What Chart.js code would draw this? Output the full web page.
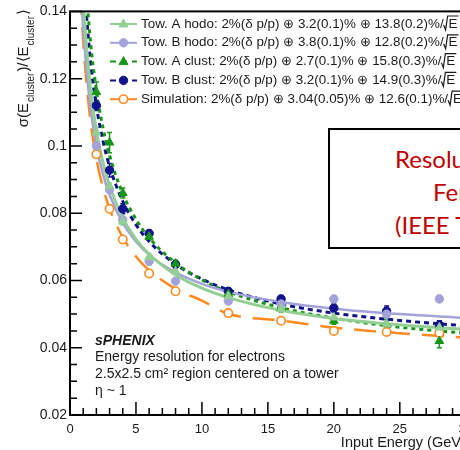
<!DOCTYPE html>
<html>
<head>
<meta charset="utf-8">
<script src="https://cdn.jsdelivr.net/npm/chart.js@4.4.1/dist/chart.umd.min.js"></script>
<style>
  html, body { margin: 0; padding: 0; background: #fff; overflow: hidden; width: 460px; height: 450px; }
  #wrap { position: relative; width: 480px; height: 450px; }
  #note { position: absolute; left: 328px; top: 128px; width: 220px; height: 117px; border: 2px solid #000; background: #fff;
          font-family: Lato, sans-serif; font-size: 24px; color: #c00000; white-space: nowrap; }
  #note span { position: absolute; line-height: 24px; }
</style>
</head>
<body>
<div id="wrap">
  <canvas id="chart" width="480" height="450"></canvas>
  <div id="note">
    <span style="left:65px; top:17px">Resolution from</span>
    <span style="left:103px; top:50px">Fermilab</span>
    <span style="left:65px; top:83px">(IEEE TNS 2018)</span>
  </div>
</div>
<script>
// beam energies (GeV) and measured resolutions
const energy = [2, 3, 4, 6, 8, 12, 16, 20, 24, 28];
const towAHodo  = [0.104, 0.088, 0.0775, 0.067, 0.0627, 0.0553, 0.0515, 0.049, 0.047, 0.046];
const towBHodo  = [0.100, 0.087, 0.078, 0.0657, 0.0598, 0.0539, 0.053, 0.0545, 0.050, 0.0545];
const towAClust = [0.116, 0.101, 0.086, 0.073, 0.065, 0.056, 0.0518, 0.048, 0.047, 0.042];
const towBClust = [0.112, 0.0928, 0.0813, 0.074, 0.0648, 0.0568, 0.0545, 0.0518, 0.0509, 0.0468];
const simulation = [0.0975, 0.0813, 0.0722, 0.0621, 0.0568, 0.0503, 0.048, 0.045, 0.0447, 0.0444];

const towAHodoErr  = [0.0015, 0.001, 0.001, 0.001, 0.001, 0.001, 0.001, 0.001, 0.001, 0.001];
const towBHodoErr  = [0.0015, 0.001, 0.001, 0.001, 0.001, 0.001, 0.001, 0.001, 0.001, 0.001];
const towAClustErr = [0.003, 0.003, 0.0015, 0.001, 0.001, 0.001, 0.001, 0.001, 0.0015, 0.002];
const towBClustErr = [0.0015, 0.002, 0.0015, 0.001, 0.001, 0.001, 0.001, 0.0012, 0.0015, 0.0012];
const simulationErr = [0.0005, 0.0005, 0.0005, 0.0005, 0.0005, 0.0005, 0.0005, 0.0005, 0.0005, 0.0005];

// fit curves
const fitE = [0.8, 1, 1.5, 2, 2.5, 3, 4, 5, 6, 8, 10, 12, 16, 20, 25, 30];
const fitAHodo  = [0.1588, 0.1431, 0.1188, 0.1046, 0.0951, 0.0882, 0.0786, 0.0723, 0.0678, 0.0617, 0.0577, 0.0549, 0.0511, 0.0487, 0.0468, 0.0454];
const fitBHodo  = [0.1494, 0.1350, 0.1130, 0.1002, 0.0916, 0.0855, 0.0771, 0.0716, 0.0676, 0.0624, 0.0590, 0.0566, 0.0536, 0.0516, 0.0500, 0.0489];
const fitAClust = [0.1798, 0.1615, 0.1333, 0.1167, 0.1054, 0.0972, 0.0858, 0.0782, 0.0727, 0.0652, 0.0602, 0.0566, 0.0519, 0.0488, 0.0461, 0.0443];
const fitBClust = [0.1708, 0.1537, 0.1274, 0.1119, 0.1015, 0.0939, 0.0835, 0.0766, 0.0716, 0.0648, 0.0604, 0.0572, 0.0530, 0.0503, 0.0481, 0.0465];
const fitSim    = [0.1455, 0.1311, 0.1091, 0.0962, 0.0876, 0.0813, 0.0728, 0.0671, 0.0630, 0.0575, 0.0540, 0.0501, 0.0481, 0.0460, 0.0443, 0.0430];

const labels = [
  'Tow. A hodo: 2%(\u03b4 p/p) \u2295 3.2(0.1)% \u2295 13.8(0.2)%/',
  'Tow. B hodo: 2%(\u03b4 p/p) \u2295 3.8(0.1)% \u2295 12.8(0.2)%/',
  'Tow. A clust: 2%(\u03b4 p/p) \u2295 2.7(0.1)% \u2295 15.8(0.3)%/',
  'Tow. B clust: 2%(\u03b4 p/p) \u2295 3.2(0.1)% \u2295 14.9(0.3)%/',
  'Simulation: 2%(\u03b4 p/p) \u2295 3.04(0.05)% \u2295 12.6(0.1)%/'
];
const xTicks = [0, 5, 10, 15, 20, 25, 30];
const yTicks = [0.02, 0.04, 0.06, 0.08, 0.1, 0.12, 0.14];

const series = [
  { y: towAHodo,  err: towAHodoErr,  fit: fitAHodo,  color: '#93cf93', shape: 'triangle', open: false, dash: [],      lw: 3,   legDash: [] },
  { y: towBHodo,  err: towBHodoErr,  fit: fitBHodo,  color: '#a3a3da', shape: 'circle',   open: false, dash: [],      lw: 2.5, legDash: [] },
  { y: towAClust, err: towAClustErr, fit: fitAClust, color: '#17961a', shape: 'triangle', open: false, dash: [4, 4],  lw: 3,   legDash: [6, 5] },
  { y: towBClust, err: towBClustErr, fit: fitBClust, color: '#12128c', shape: 'circle',   open: false, dash: [5, 4],  lw: 3,   legDash: [6, 5] },
  { y: simulation, err: simulationErr, fit: fitSim,  color: '#ff8a1e', shape: 'circle',   open: true,  dash: [22, 12], lw: 2.5, legDash: [] }
];

const datasets = [];
series.forEach((s, i) => {
  datasets.push({
    label: labels[i] + ' fit',
    data: fitE.map((e, k) => ({ x: e, y: s.fit[k] })),
    showLine: true, pointRadius: 0, borderColor: s.color, borderWidth: s.lw,
    borderDash: s.dash, cubicInterpolationMode: 'monotone', order: 2
  });
});
series.forEach((s, i) => {
  datasets.push({
    label: labels[i],
    data: energy.map((e, k) => ({ x: e, y: s.y[k] })),
    errors: s.err,
    showLine: false, pointStyle: s.shape, pointRadius: s.shape === 'triangle' ? 5 : 4.2,
    backgroundColor: s.open ? '#fff' : s.color, borderColor: s.color, borderWidth: s.open ? 1.6 : 1,
    order: 1
  });
});

function drawMarker(ctx, shape, open, color, x, y) {
  ctx.save();
  ctx.fillStyle = open ? '#fff' : color;
  ctx.strokeStyle = color;
  ctx.lineWidth = open ? 1.6 : 1;
  ctx.setLineDash([]);
  ctx.beginPath();
  if (shape === 'triangle') {
    ctx.moveTo(x, y - 5); ctx.lineTo(x + 4.5, y + 3); ctx.lineTo(x - 4.5, y + 3); ctx.closePath();
  } else {
    ctx.arc(x, y, 4.2, 0, Math.PI * 2);
  }
  ctx.fill(); ctx.stroke();
  ctx.restore();
}

const decorations = {
  id: 'decorations',
  beforeDatasetsDraw(chart) {
    // error bars
    const { ctx, scales: { y } } = chart;
    ctx.save();
    chart.data.datasets.forEach((ds, i) => {
      if (!ds.errors) return;
      const meta = chart.getDatasetMeta(i);
      ctx.strokeStyle = ds.borderColor;
      ctx.lineWidth = 1.5;
      meta.data.forEach((pt, k) => {
        const v = ds.data[k].y, e = ds.errors[k];
        ctx.beginPath();
        ctx.moveTo(pt.x, y.getPixelForValue(v - e));
        ctx.lineTo(pt.x, y.getPixelForValue(v + e));
        ctx.moveTo(pt.x - 2.5, y.getPixelForValue(v - e));
        ctx.lineTo(pt.x + 2.5, y.getPixelForValue(v - e));
        ctx.moveTo(pt.x - 2.5, y.getPixelForValue(v + e));
        ctx.lineTo(pt.x + 2.5, y.getPixelForValue(v + e));
        ctx.stroke();
      });
    });
    ctx.restore();
  },
  afterDraw(chart) {
    const { ctx, chartArea: a, scales: { x, y } } = chart;
    ctx.save();
    // frame and inward ticks
    ctx.strokeStyle = '#000';
    ctx.lineWidth = 2;
    ctx.strokeRect(a.left, a.top, a.right - a.left, a.bottom - a.top);
    ctx.lineWidth = 1.5;
    ctx.beginPath();
    for (let v = 0; v <= 30; v++) {
      const px = x.getPixelForValue(v);
      const len = v % 5 === 0 ? 13 : 7;
      ctx.moveTo(px, a.bottom); ctx.lineTo(px, a.bottom - len);
    }
    for (let i = 0; i <= 24; i++) {
      const py = y.getPixelForValue(0.02 + i * 0.005);
      const len = i % 4 === 0 ? 12 : 7;
      ctx.moveTo(a.left, py); ctx.lineTo(a.left + len, py);
    }
    ctx.stroke();

    // legend
    ctx.font = '13.4px "Liberation Sans", Arial, sans-serif';
    ctx.textBaseline = 'middle';
    series.forEach((s, i) => {
      const ly = 24 + i * 18.8;
      ctx.save();
      ctx.strokeStyle = s.color; ctx.lineWidth = 2; ctx.setLineDash(s.legDash);
      ctx.beginPath(); ctx.moveTo(110, ly); ctx.lineTo(137, ly); ctx.stroke();
      ctx.restore();
      drawMarker(ctx, s.shape, s.open, s.color, 123.5, ly);
      ctx.fillStyle = '#1a1a1a';
      ctx.fillText(labels[i], 141, ly);
      const tx = 141 + ctx.measureText(labels[i]).width;
      const wE = ctx.measureText('E').width;
      ctx.strokeStyle = '#1a1a1a'; ctx.lineWidth = 1.2;
      ctx.beginPath();
      ctx.moveTo(tx, ly + 1); ctx.lineTo(tx + 2, ly + 6); ctx.lineTo(tx + 4, ly - 8); ctx.lineTo(tx + 6 + wE, ly - 8);
      ctx.stroke();
      ctx.fillText('E', tx + 5, ly);
    });

    // y axis title (rotated, with subscripts)
    const mainF = '15px "Liberation Sans", Arial, sans-serif';
    const subF = '10px "Liberation Sans", Arial, sans-serif';
    const parts = [['\u03c3(E', mainF, 0], ['cluster', subF, 6], [')/\u27e8E', mainF, 0], ['cluster', subF, 6], ['\u27e9', mainF, 0]];
    let total = 0;
    parts.forEach(p => { ctx.font = p[1]; total += ctx.measureText(p[0]).width + 1; });
    ctx.save();
    ctx.translate(28, 8 + total);
    ctx.rotate(-Math.PI / 2);
    ctx.textBaseline = 'alphabetic';
    ctx.fillStyle = '#1a1a1a';
    let cx = 0;
    parts.forEach(p => { ctx.font = p[1]; ctx.fillText(p[0], cx, p[2]); cx += ctx.measureText(p[0]).width + 1; });
    ctx.restore();

    // x axis title
    ctx.font = '14.5px "Liberation Sans", Arial, sans-serif';
    ctx.textAlign = 'right';
    ctx.textBaseline = 'alphabetic';
    ctx.fillStyle = '#1a1a1a';
    ctx.fillText('Input Energy (GeV)', a.right, 447);

    // sPHENIX text block
    ctx.textAlign = 'left';
    ctx.font = 'italic bold 14px "Liberation Sans", Arial, sans-serif';
    ctx.fillText('sPHENIX', 95, 345);
    ctx.font = '14px "Liberation Sans", Arial, sans-serif';
    ctx.fillText('Energy resolution for electrons', 95, 361);
    ctx.fillText('2.5x2.5 cm\u00b2 region centered on a tower', 95, 378);
    ctx.fillText('\u03b7 ~ 1', 95, 395);
    ctx.restore();
  }
};

new Chart(document.getElementById('chart'), {
  type: 'scatter',
  data: { datasets },
  options: {
    responsive: false,
    animation: false,
    devicePixelRatio: 1,
    layout: { padding: { top: 8, right: 13, left: 0, bottom: 0 } },
    plugins: { legend: { display: false }, tooltip: { enabled: false } },
    scales: {
      x: {
        type: 'linear', min: 0, max: 30,
        afterFit: s => { s.height = 35; },
        afterBuildTicks: s => { s.ticks = xTicks.map(v => ({ value: v })); },
        grid: { display: false, drawTicks: false }, border: { display: false },
        ticks: { padding: 7, maxRotation: 0, autoSkip: false, color: '#1a1a1a',
                 font: { family: '"Liberation Sans", Arial', size: 13 } }
      },
      y: {
        type: 'linear', min: 0.02, max: 0.14,
        afterFit: s => { s.width = 70; },
        afterBuildTicks: s => { s.ticks = yTicks.map(v => ({ value: v })); },
        grid: { display: false, drawTicks: false }, border: { display: false },
        ticks: { padding: 3, color: '#1a1a1a', callback: v => String(Number(v.toFixed(2))),
                 font: { family: '"Liberation Sans", Arial', size: 14 } }
      }
    }
  },
  plugins: [decorations]
});
</script>
</body>
</html>
